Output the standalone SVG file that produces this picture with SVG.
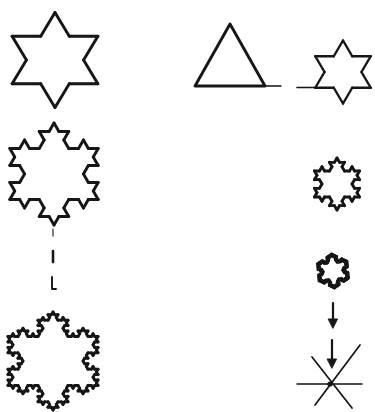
<svg xmlns="http://www.w3.org/2000/svg" width="375" height="412" viewBox="0 0 375 412">
<style>
.ink{fill:none;stroke:#141414;stroke-linecap:round;stroke-linejoin:round;filter:url(#scan)}
.thick{stroke-width:2.9}
.mid{stroke-width:2.4}
</style>
<defs>
<filter id="scan" x="-10%" y="-10%" width="120%" height="120%"><feGaussianBlur stdDeviation="0.45"/></filter>
<path id="k0" d="M0 0H1" vector-effect="non-scaling-stroke"/>
<g id="k1"><use href="#k0" transform="scale(.333333)"/><use href="#k0" transform="translate(.333333 0) rotate(-60) scale(.333333)"/><use href="#k0" transform="translate(.5 -.288675) rotate(60) scale(.333333)"/><use href="#k0" transform="translate(.666667 0) scale(.333333)"/></g>
<g id="k2"><use href="#k1" transform="scale(.333333)"/><use href="#k1" transform="translate(.333333 0) rotate(-60) scale(.333333)"/><use href="#k1" transform="translate(.5 -.288675) rotate(60) scale(.333333)"/><use href="#k1" transform="translate(.666667 0) scale(.333333)"/></g>
<g id="k3"><use href="#k2" transform="scale(.333333)"/><use href="#k2" transform="translate(.333333 0) rotate(-60) scale(.333333)"/><use href="#k2" transform="translate(.5 -.288675) rotate(60) scale(.333333)"/><use href="#k2" transform="translate(.666667 0) scale(.333333)"/></g>
<g id="f1"><use href="#k1" transform="translate(0 -1) rotate(60) scale(1.7320508)"/><use href="#k1" transform="translate(.8660254 .5) rotate(180) scale(1.7320508)"/><use href="#k1" transform="translate(-.8660254 .5) rotate(-60) scale(1.7320508)"/></g>
<g id="f2"><use href="#k2" transform="translate(0 -1) rotate(60) scale(1.7320508)"/><use href="#k2" transform="translate(.8660254 .5) rotate(180) scale(1.7320508)"/><use href="#k2" transform="translate(-.8660254 .5) rotate(-60) scale(1.7320508)"/></g>
<g id="f3"><use href="#k3" transform="translate(0 -1) rotate(60) scale(1.7320508)"/><use href="#k3" transform="translate(.8660254 .5) rotate(180) scale(1.7320508)"/><use href="#k3" transform="translate(-.8660254 .5) rotate(-60) scale(1.7320508)"/></g>
</defs>

<g id="star-level1" class="ink thick"><use href="#f1" transform="translate(55 60) scale(49.5 47.5)"/></g>
<g id="flake-level2" class="ink thick"><use href="#f2" transform="translate(54 174) scale(51 51)"/></g>
<g id="flake-level3" class="ink thick"><use href="#f3" transform="translate(53 361) scale(52 49)"/></g>

<g id="continuation-marks" class="ink">
<line x1="53" y1="229" x2="53" y2="236" stroke-width="1.1"/>
<line x1="53" y1="251" x2="53" y2="262" stroke-width="2.6"/>
<path d="M52 277V289H56" stroke-width="1.9"/>
</g>

<g id="triangle" class="ink thick">
<polygon points="230,24 265,86 195,86"/>
<line x1="265" y1="86" x2="281" y2="86" stroke-width="1.4"/>
</g>

<g id="star-small" class="ink mid">
<use href="#f1" transform="translate(343 72) scale(32 31.5)"/>
<line x1="297" y1="87.5" x2="316" y2="87.5" stroke-width="1.6"/>
</g>

<g id="flake-small-2" class="ink thick"><use href="#f2" transform="translate(337 184) scale(26 26)"/></g>
<g id="flake-small-3" class="ink thick"><use href="#f3" transform="translate(333 271) rotate(-5) scale(17 17)"/></g>

<g id="connectors" class="ink">
<line x1="333" y1="303" x2="333" y2="320" stroke-width="2.2"/>
<polygon points="328.5,319 337.5,319 333,328" fill="#141414" stroke-width="1"/>
<line x1="332" y1="340" x2="332" y2="360" stroke-width="2.2"/>
<polygon points="327.5,359 336.5,359 332,368" fill="#141414" stroke-width="1"/>
</g>

<g id="limit-point" class="ink">
<line x1="297" y1="384" x2="362" y2="384" stroke-width="1.5"/>
<line x1="312" y1="357" x2="352" y2="408" stroke-width="1.7"/>
<line x1="360" y1="345" x2="315" y2="405" stroke-width="1.7"/>
<circle cx="330" cy="384" r="2.6" fill="#141414" stroke="none"/>
</g>
</svg>
